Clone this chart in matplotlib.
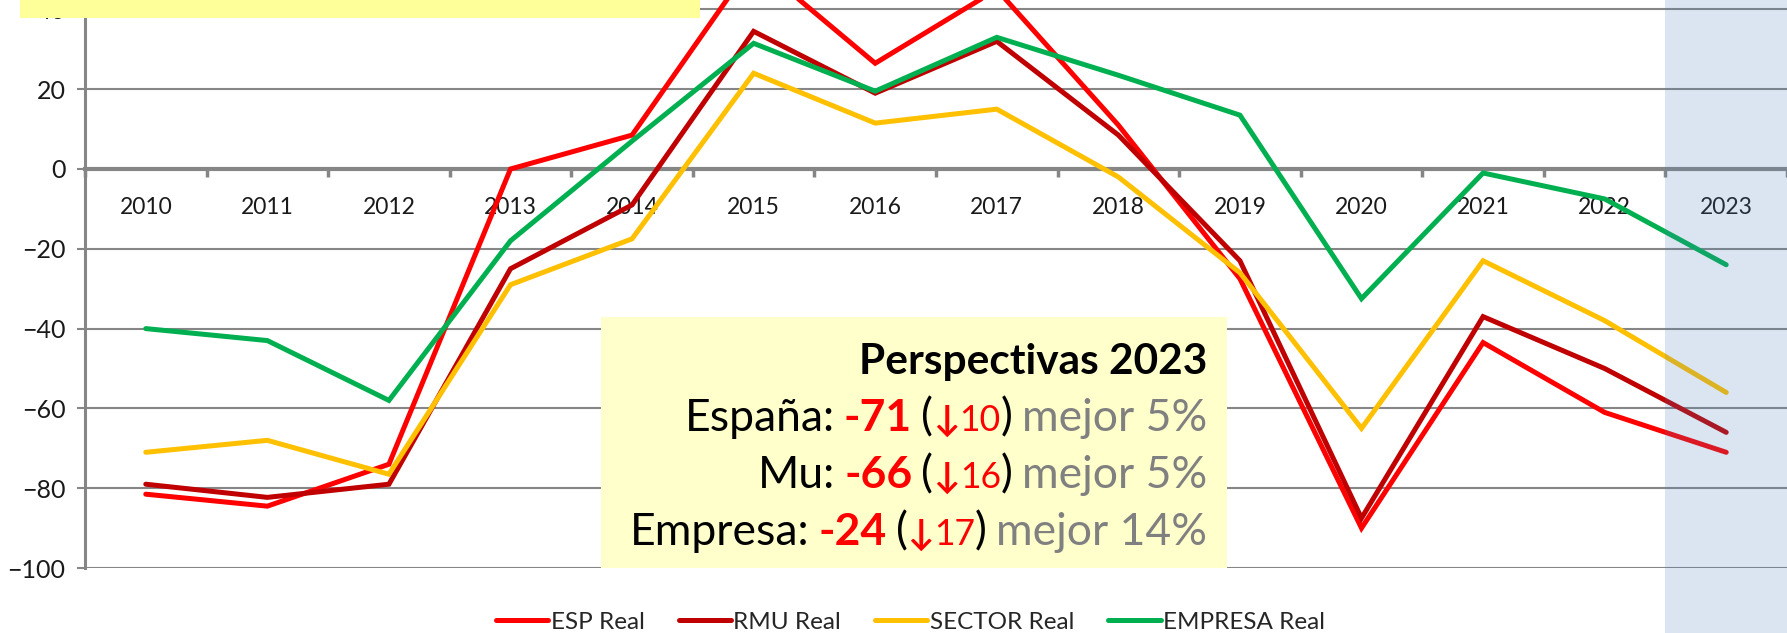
import numpy as np
import matplotlib
matplotlib.use("Agg")
import matplotlib.pyplot as plt
from matplotlib.patches import Rectangle
from matplotlib.lines import Line2D
from matplotlib.transforms import ScaledTranslation, blended_transform_factory

plt.rcParams['font.family'] = ['Lato', 'DejaVu Sans']

# datos
years = ['2010', '2011', '2012', '2013', '2014', '2015', '2016',
         '2017', '2018', '2019', '2020', '2021', '2022', '2023']
esp_real = [-81.5, -84.5, -74, 0, 8.5, 52, 26.5, 45, 11, -27.5, -90, -43.5, -61, -71]
rmu_real = [-79, -82.3, -79, -25, -9, 34.5, 19, 32, 8.5, -23, -87.5, -37, -50, -66]
sector_real = [-71, -68, -76.5, -29, -17.5, 24, 11.5, 15, -2, -26, -65, -23, -38, -56]
empresa_real = [-40, -43, -58, -18, 7, 31.5, 19.5, 33, 23.5, 13.5, -32.5, -1, -7.5, -24]

series = [('ESP Real', esp_real, '#FF0000'),
          ('RMU Real', rmu_real, '#C00000'),
          ('SECTOR Real', sector_real, '#FFC000'),
          ('EMPRESA Real', empresa_real, '#00B050')]

# textos del recuadro
box_title = 'Perspectivas 2023'
box_rows = [('España:', '-71', '10', 'mejor 5%'),
            ('Mu:', '-66', '16', 'mejor 5%'),
            ('Empresa:', '-24', '17', 'mejor 14%')]

W, H = 1787, 633
fig = plt.figure(figsize=(W / 100, H / 100), dpi=100)
ax = fig.add_axes([85 / W, (H - 568) / H, 1 - 85 / W, 568 / H])

x = np.arange(len(years))
for name, vals, col in series:
    ax.plot(x, vals, color=col, lw=3.6, solid_capstyle='round', solid_joinstyle='miter', zorder=3)

ax.set_xlim(-0.5, 13.5)
ax.set_ylim(-100, 169 / 3.99)
ax.set_yticks(np.arange(-100, 41, 20))
ax.set_xticks(x)
ax.set_xticklabels(years)
ax.set_xticks(np.arange(-0.5, 13.6, 1), minor=True)

gray = '#868686'
ax.yaxis.grid(True, color=gray, lw=1.5)
ax.set_axisbelow(True)
for s in ['top', 'right']:
    ax.spines[s].set_visible(False)
ax.spines['left'].set_color(gray)
ax.spines['left'].set_linewidth(2.2)
ax.spines['bottom'].set_position(('data', 0))
ax.spines['bottom'].set_color(gray)
ax.spines['bottom'].set_linewidth(3)

ax.tick_params(axis='x', which='major', length=0, pad=20, labelsize=16.5, labelcolor='#1a1a1a')
ax.tick_params(axis='x', which='minor', length=6, width=2.5, color=gray, direction='out')
ax.tick_params(axis='y', length=6, width=1.5, color=gray, pad=8, labelsize=18, labelcolor='#1a1a1a')

# recuadro de perspectivas
ax.add_patch(Rectangle((3.745, -100), 8.895 - 3.745, 62.9, facecolor='#FFFFCC',
                       edgecolor='none', zorder=4))

fs = 32
x_right = 8.73
ax.text(x_right, -51.3, box_title, ha='right', va='baseline', fontsize=30.5,
        fontweight='bold', color='black', zorder=5)

renderer = fig.canvas.get_renderer()


def text_width(s, **kw):
    t = ax.text(0, 0, s, **kw)
    w = t.get_window_extent(renderer).width
    t.remove()
    return w


space = 0.8 * (text_width('x x', fontsize=fs) - text_width('xx', fontsize=fs))

for i, (label, value, delta, mejor) in enumerate(box_rows):
    y = -65.6 - i * 14.3
    parts = [(label, 'black', 'normal', 1.0), None,
             (value, '#FF0000', 'bold', 1.0), None,
             ('(', 'black', 'normal', 1.0),
             ('↓', '#FF0000', 'bold', 0.8),
             (delta, '#FF0000', 'normal', 0.8),
             (')', 'black', 'normal', 1.0), None,
             (mejor, '#808080', 'normal', 1.0)]
    items = []
    total = 0
    for p in parts:
        if p is None:
            items.append((None, space))
            total += space
            continue
        s, c, wgt, k = p
        t = ax.text(x_right, y, s, color=c, fontweight=wgt, fontsize=fs * k,
                    ha='left', va='baseline', zorder=5)
        w = t.get_window_extent(renderer).width
        items.append((t, w))
        total += w
    off = -total
    for t, w in items:
        if t is not None:
            t.set_transform(ax.transData + ScaledTranslation(off / 100, 0, fig.dpi_scale_trans))
        off += w

# columna 2023 sombreada
tr = blended_transform_factory(ax.transData, fig.transFigure)
ax.add_patch(Rectangle((12.5, 0), 1, 1, transform=tr, facecolor='#4F81BD', alpha=0.2,
                       edgecolor='none', clip_on=False, zorder=10))

# recuadro amarillo superior (cortado)
fig.patches.append(Rectangle((20 / W, 1 - 18 / H), 680 / W, 18 / H, transform=fig.transFigure,
                             facecolor='#FFFF99', edgecolor='none', zorder=20))

handles = [Line2D([], [], color=c, lw=3.6, solid_capstyle='round') for _, _, c in series]
fig.legend(handles, [n for n, _, _ in series], loc='center', bbox_to_anchor=(799 / 1568, 0.017),
           ncol=4, frameon=False, fontsize=17.5, handlelength=2.15, handletextpad=0.1,
           columnspacing=1.4, labelcolor='#262626')

fig.savefig('out.png', dpi=100)
